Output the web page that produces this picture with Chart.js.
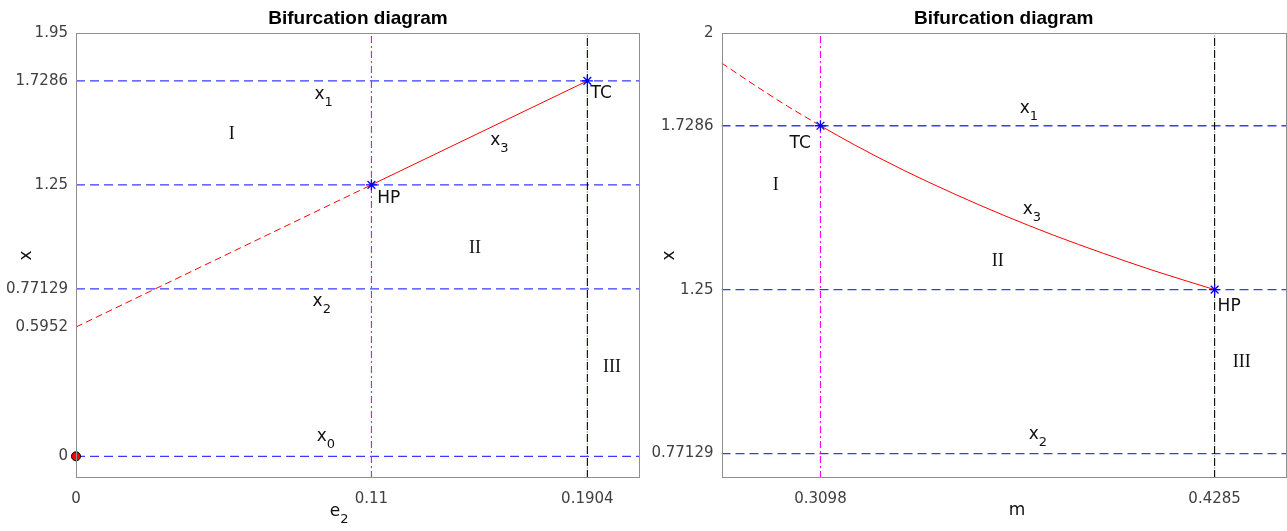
<!DOCTYPE html>
<html>
<head>
<meta charset="utf-8">
<title>Bifurcation diagrams</title>
<script src="https://cdn.jsdelivr.net/npm/chart.js@4.4.1/dist/chart.umd.min.js"></script>
<style>
  html, body { margin: 0; padding: 0; background: #fff; overflow: hidden; }
  canvas { position: absolute; top: 0; }
  #c1 { left: 0; }
  #c2 { left: 650px; }
</style>
</head>
<body>
<canvas id="c1" width="650" height="531"></canvas>
<canvas id="c2" width="637" height="531"></canvas>
<script>
// ---- left panel (x against e2) ----
const e2Range = [0, 0.21];
const xRangeL = [-0.1, 1.95];
const e2Ticks = [0, 0.11, 0.1904];
const e2TickLabels = ['0', '0.11', '0.1904'];
const xTicksL = [0, 0.5952, 0.77129, 1.25, 1.7286, 1.95];
const xTickLabelsL = ['0', '0.5952', '0.77129', '1.25', '1.7286', '1.95'];
const levelsL = [1.7286, 1.25, 0.77129, 0];        // x1, HP level, x2, x0
const hpE2 = 0.11, tcE2 = 0.1904;
const x3UnstableE2 = [0, 0.11];
const x3UnstableL = [0.5952, 1.25];
const x3StableE2 = [0.11, 0.1904];
const x3StableL = [1.25, 1.7286];
const specialE2 = [0.11, 0.1904];
const specialXL = [1.25, 1.7286];

// ---- right panel (x against m) ----
const mRange = [0.28, 0.45];
const xRangeR = [0.7, 2];
const mTicks = [0.3098, 0.4285];
const mTickLabels = ['0.3098', '0.4285'];
const xTicksR = [0.77129, 1.25, 1.7286, 2];
const xTickLabelsR = ['0.77129', '1.25', '1.7286', '2'];
const levelsR = [1.7286, 1.25, 0.77129];
const tcM = 0.3098, hpM = 0.4285;
const x3UnstableM = [0.28, 0.29, 0.30, 0.3098];
const x3UnstableR = [1.912, 1.847, 1.785, 1.7286];
const x3StableM = [0.3098, 0.32, 0.335, 0.35, 0.365, 0.38, 0.395, 0.41, 0.4285];
const x3StableR = [1.7286, 1.673, 1.598, 1.530, 1.467, 1.409, 1.356, 1.306, 1.25];
const specialM = [0.3098, 0.4285];
const specialXR = [1.7286, 1.25];

// text labels, in data coordinates (below = px under the plot box)
const notesL = [
  { t: 'x', s: '1', x: 0.0888, y: 1.665 },
  { t: 'x', s: '3', x: 0.1542, y: 1.4535 },
  { t: 'x', s: '2', x: 0.0881, y: 0.7107 },
  { t: 'x', s: '0', x: 0.0896, y: 0.0897 },
  { t: 'HP', x: 0.1122, y: 1.1868 },
  { t: 'TC', x: 0.1916, y: 1.672 },
  { r: 'I', x: 0.058, y: 1.481 },
  { r: 'II', x: 0.1486, y: 0.957 },
  { r: 'III', x: 0.1996, y: 0.4094 },
  { t: 'e', s: '2', x: 0.0945, below: 34 }
];
const notesR = [
  { t: 'x', s: '1', x: 0.3698, y: 1.7782 },
  { t: 'x', s: '3', x: 0.3707, y: 1.4835 },
  { t: 'x', s: '2', x: 0.3725, y: 0.827 },
  { t: 'TC', x: 0.3005, y: 1.6761 },
  { t: 'HP', x: 0.4294, y: 1.2005 },
  { r: 'I', x: 0.2963, y: 1.5535 },
  { r: 'II', x: 0.3632, y: 1.3318 },
  { r: 'III', x: 0.4367, y: 1.0371 },
  { t: 'm', x: 0.3665, below: 33 }
];

const SANS = "'DejaVu Sans', sans-serif";
const BLUE = '#3a3aff';
const zip = (xs, ys) => xs.map((x, i) => ({ x: x, y: ys[i] }));

function hLine(v, range, color, dash) {
  return { type: 'line', order: 5, data: [{ x: range[0], y: v }, { x: range[1], y: v }],
           borderColor: color, borderWidth: 1.3, borderDash: dash, pointRadius: 0 };
}
function vLine(v, range, color, dash, offset, order) {
  return { type: 'line', order: order, data: [{ x: v, y: range[0] }, { x: v, y: range[1] }],
           borderColor: color, borderWidth: 1.1, borderDash: dash,
           borderDashOffset: offset || 0, pointRadius: 0 };
}
// matlab style dash-dot line: black dashes with a green trace in the gaps
function vLineKG(v, range) {
  return [vLine(v, range, '#000000', [8, 4], 0, 3), vLine(v, range, '#00c000', [1, 11], 2.5, 4)];
}

const boxAndText = {
  id: 'boxAndText',
  afterDatasetsDraw(chart, args, opts) {
    const { ctx, chartArea: a, scales } = chart;
    ctx.save();
    ctx.strokeStyle = '#8f8f8f';
    ctx.lineWidth = 1;
    ctx.strokeRect(Math.round(a.left) + 0.5, Math.round(a.top) + 0.5,
                   Math.round(a.width) - 1, Math.round(a.height) - 1);
    ctx.textBaseline = 'middle';
    ctx.fillStyle = '#111';
    opts.notes.forEach(n => {
      const px = scales.x.getPixelForValue(n.x);
      const py = n.below ? a.bottom + n.below : scales.y.getPixelForValue(n.y);
      if (n.r) {
        ctx.font = "18px 'Liberation Serif', serif";
        ctx.textAlign = 'center';
        ctx.fillText(n.r, px, py);
        return;
      }
      ctx.font = '17px ' + SANS;
      ctx.textAlign = 'left';
      ctx.fillText(n.t, px, py);
      if (n.s) {
        const w = ctx.measureText(n.t).width;
        ctx.font = '13px ' + SANS;
        ctx.fillText(n.s, px + w, py + 8);
      }
    });
    ctx.restore();
  }
};

function makeOptions(cfg) {
  return {
    responsive: false,
    animation: false,
    layout: { autoPadding: false, padding: { top: 0, right: cfg.padRight, bottom: 0, left: 0 } },
    plugins: {
      legend: { display: false },
      tooltip: { enabled: false },
      title: {
        display: true, text: 'Bifurcation diagram', fullSize: false,
        color: '#000', font: { family: "'Liberation Sans', Arial, sans-serif", size: 19, weight: 'bold' },
        padding: { top: 7, bottom: 3 }
      },
      boxAndText: { notes: cfg.notes }
    },
    scales: {
      x: {
        type: 'linear', min: cfg.xr[0], max: cfg.xr[1],
        grid: { display: false, drawTicks: false }, border: { display: false },
        afterBuildTicks: s => { s.ticks = cfg.xt.map(v => ({ value: v })); },
        afterFit: s => { s.height = 53; },
        ticks: { autoSkip: false, maxRotation: 0, padding: 12, color: '#404040',
                 font: { family: SANS, size: 15 },
                 callback: (v, i) => cfg.xl[i] }
      },
      y: {
        type: 'linear', min: cfg.yr[0], max: cfg.yr[1],
        grid: { display: false, drawTicks: false }, border: { display: false },
        afterBuildTicks: s => { s.ticks = cfg.yt.map(v => ({ value: v })); },
        afterFit: s => { s.width = cfg.yWidth; },
        ticks: { autoSkip: false, padding: 8, color: '#404040',
                 font: { family: SANS, size: 15 },
                 callback: (v, i) => cfg.yl[i] },
        title: { display: true, text: 'x', color: '#111',
                 font: { family: SANS, size: 17 }, padding: { top: cfg.yTitlePad, bottom: 0 } }
      }
    }
  };
}

const leftSets = [
  ...levelsL.map(v => hLine(v, e2Range, BLUE, [9, 5])),
  vLine(hpE2, xRangeL, '#ff00ff', [7, 3, 2, 3], 0, 3),
  ...vLineKG(tcE2, xRangeL),
  { type: 'line', order: 1, data: zip(x3UnstableE2, x3UnstableL), borderColor: '#ff0000',
    borderWidth: 1, borderDash: [7, 4], pointRadius: 0 },
  { type: 'line', order: 1, data: zip(x3StableE2, x3StableL), borderColor: '#ff0000',
    borderWidth: 1, pointRadius: 0 },
  { type: 'scatter', order: 0, data: zip(specialE2, specialXL), pointStyle: 'star',
    pointRadius: 5.5, borderColor: '#0000ff', borderWidth: 1.3 },
  { type: 'scatter', order: 0, data: [{ x: 0, y: 0 }], pointStyle: 'circle', pointRadius: 4.5,
    backgroundColor: '#ff0000', borderColor: '#000', borderWidth: 1, clip: false }
];

const rightSets = [
  ...levelsR.map(v => hLine(v, mRange, BLUE, [9, 5])),
  vLine(tcM, xRangeR, '#ff00ff', [7, 3, 2, 3], 0, 3),
  ...vLineKG(hpM, xRangeR),
  { type: 'line', order: 1, data: zip(x3UnstableM, x3UnstableR), borderColor: '#ff0000',
    borderWidth: 1, borderDash: [7, 4], pointRadius: 0, cubicInterpolationMode: 'monotone' },
  { type: 'line', order: 1, data: zip(x3StableM, x3StableR), borderColor: '#ff0000',
    borderWidth: 1, pointRadius: 0, cubicInterpolationMode: 'monotone' },
  { type: 'scatter', order: 0, data: zip(specialM, specialXR), pointStyle: 'star',
    pointRadius: 5.5, borderColor: '#0000ff', borderWidth: 1.3 }
];

new Chart(document.getElementById('c1'), {
  type: 'scatter',
  data: { datasets: leftSets },
  options: makeOptions({ xr: e2Range, yr: xRangeL, xt: e2Ticks, xl: e2TickLabels,
    yt: xTicksL, yl: xTickLabelsL, yWidth: 76, yTitlePad: 16,
    padRight: 10, notes: notesL }),
  plugins: [boxAndText]
});

new Chart(document.getElementById('c2'), {
  type: 'scatter',
  data: { datasets: rightSets },
  options: makeOptions({ xr: mRange, yr: xRangeR, xt: mTicks, xl: mTickLabels,
    yt: xTicksR, yl: xTickLabelsR, yWidth: 71.5, yTitlePad: 9,
    padRight: 1, notes: notesR }),
  plugins: [boxAndText]
});
</script>
</body>
</html>
